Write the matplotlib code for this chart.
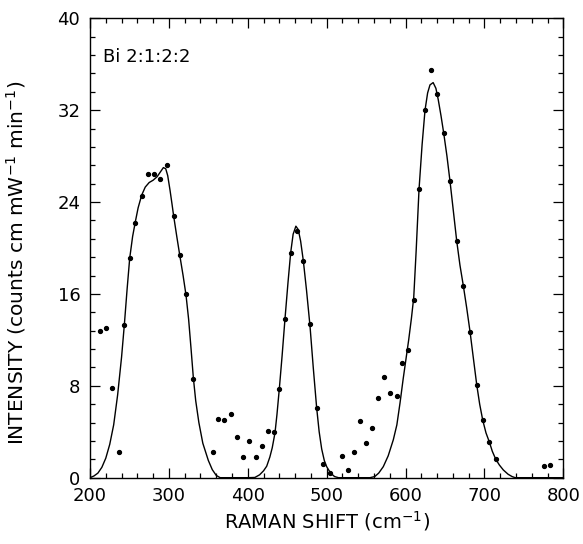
import numpy as np
import matplotlib
matplotlib.use("Agg")
import matplotlib.pyplot as plt
from matplotlib.ticker import MultipleLocator

plt.rcParams['font.family'] = ['DejaVu Sans']
plt.rcParams['mathtext.fontset'] = 'dejavusans'

# measured Raman intensities (dots)
shift_pts = [212.3, 220.3, 228.3, 237.2, 243.5, 250.3, 257.5, 265.5, 273.1, 281.1,
             289.1, 297.2, 306.1, 313.7, 321.7, 331.0, 355.6, 362.7, 370.3, 378.4,
             386.4, 394.4, 401.8, 410.0, 417.6, 425.2, 432.8, 440.0, 447.2, 454.4,
             462.0, 470.4, 478.9, 487.3, 495.8, 503.9, 519.5, 527.1, 534.3, 541.9,
             549.9, 557.5, 565.5, 573.1, 580.7, 588.8, 596.0, 603.5, 610.4, 617.1,
             624.7, 632.3, 639.9, 648.4, 656.4, 664.9, 673.3, 681.8, 690.3, 697.9,
             706.3, 714.4, 776.0, 783.6]
intensity_pts = [12.8, 13.0, 7.8, 2.2, 13.3, 19.1, 22.15, 24.5, 26.4, 26.4,
                 26.0, 27.2, 22.8, 19.4, 16.0, 8.6, 2.2, 5.1, 5.05, 5.55,
                 3.55, 1.8, 3.2, 1.8, 2.8, 4.1, 4.0, 7.75, 13.85, 19.6,
                 21.5, 18.9, 13.4, 6.1, 1.2, 0.4, 1.9, 0.7, 2.2, 4.9,
                 3.05, 4.3, 6.9, 8.8, 7.4, 7.15, 9.95, 11.1, 15.45, 25.1,
                 32.0, 35.5, 33.4, 30.0, 25.8, 20.6, 16.7, 12.7, 8.05, 5.0,
                 3.1, 1.6, 1.0, 1.1]

# fitted band profile (solid line)
fit_shift = [200, 205, 210, 215, 220, 225, 230, 235, 240, 243.5,
             247, 250.3, 254, 257.5, 261, 265.5, 270, 275, 280, 285,
             289, 293, 296, 298.5, 301.5, 304, 306, 310, 313.7, 318,
             321.7, 325, 328, 331, 334, 338, 343, 350, 355, 360,
             365, 400, 409, 415, 420, 424, 428, 431, 434.5, 437,
             440, 443.5, 447.2, 451, 454.4, 457.5, 461, 464, 467, 470.4,
             474.5, 478.9, 483, 487.3, 490.5, 493.7, 497, 500, 505, 510,
             515, 555, 561, 566, 571.8, 578, 584.5, 589, 593, 597,
             600.5, 604, 607.5, 610.4, 613.5, 617.1, 621, 624.7, 628, 631,
             635, 638.5, 641.5, 645, 648.4, 652.5, 656.4, 660, 664.9, 669,
             673.3, 677.5, 681.8, 686, 690.3, 694, 697.9, 702, 706.3, 710,
             714.4, 719, 724, 730, 735, 739, 800]
fit_intensity = [0.0, 0.15, 0.4, 0.9, 1.7, 2.9, 4.6, 7.2, 10.5, 13.3,
                 16.4, 19.1, 21.0, 22.3, 23.5, 24.6, 25.3, 25.7, 25.9, 26.2,
                 26.6, 27.0, 26.9, 26.3, 25.0, 23.8, 22.8, 21.0, 19.4, 17.6,
                 15.9, 13.8, 11.3, 8.7, 6.7, 4.8, 3.0, 1.5, 0.7, 0.2,
                 0.0, 0.0, 0.02, 0.25, 0.6, 1.0, 1.8, 2.6, 3.9, 5.5,
                 7.75, 10.6, 13.85, 17.0, 19.6, 21.2, 21.9, 21.6, 20.6, 18.9,
                 16.3, 13.2, 9.6, 6.1, 4.0, 2.5, 1.5, 0.96, 0.4, 0.1,
                 0.0, 0.0, 0.1, 0.4, 0.96, 1.9, 3.3, 4.6, 6.5, 8.6,
                 10.3, 12.0, 13.9, 15.7, 19.8, 25.1, 29.0, 32.0, 33.5, 34.2,
                 34.4, 33.9, 32.9, 31.5, 30.0, 28.0, 25.8, 23.6, 20.6, 18.5,
                 16.7, 14.8, 12.7, 10.4, 8.07, 6.4, 5.0, 3.9, 3.1, 2.3,
                 1.6, 1.1, 0.67, 0.3, 0.1, 0.0, 0.0]

fig = plt.figure(figsize=(5.83, 5.44), dpi=100)
ax = fig.add_axes([0.1544, 0.1219, 0.8118, 0.8445])

ax.plot(fit_shift, fit_intensity, color='black', linewidth=1.0)
ax.plot(shift_pts, intensity_pts, linestyle='none', marker='o',
        markersize=2.8, color='black')

ax.set_xlim(200, 800)
ax.set_ylim(0, 40)
ax.xaxis.set_major_locator(MultipleLocator(100))
ax.xaxis.set_minor_locator(MultipleLocator(20))
ax.yaxis.set_major_locator(MultipleLocator(8))
ax.yaxis.set_minor_locator(MultipleLocator(1.6))
ax.tick_params(which='both', direction='in', top=True, right=True,
               labelsize=13, width=0.9)
ax.tick_params(axis='x', pad=7)
ax.tick_params(axis='y', pad=7)
ax.tick_params(which='major', length=7)
ax.tick_params(which='minor', length=3.5)
for sp in ax.spines.values():
    sp.set_linewidth(1.0)

ax.set_xlabel('RAMAN SHIFT (cm$^{-1}$)', fontsize=14, labelpad=3)
ax.set_ylabel('INTENSITY (counts cm mW$^{-1}$ min$^{-1}$)', fontsize=14.5)
ax.yaxis.set_label_coords(-0.132, 0.468)

ax.text(0.028, 0.915, 'Bi 2:1:2:2', transform=ax.transAxes,
        fontsize=13, va='center', ha='left')

fig.savefig('out.png', dpi=100)
